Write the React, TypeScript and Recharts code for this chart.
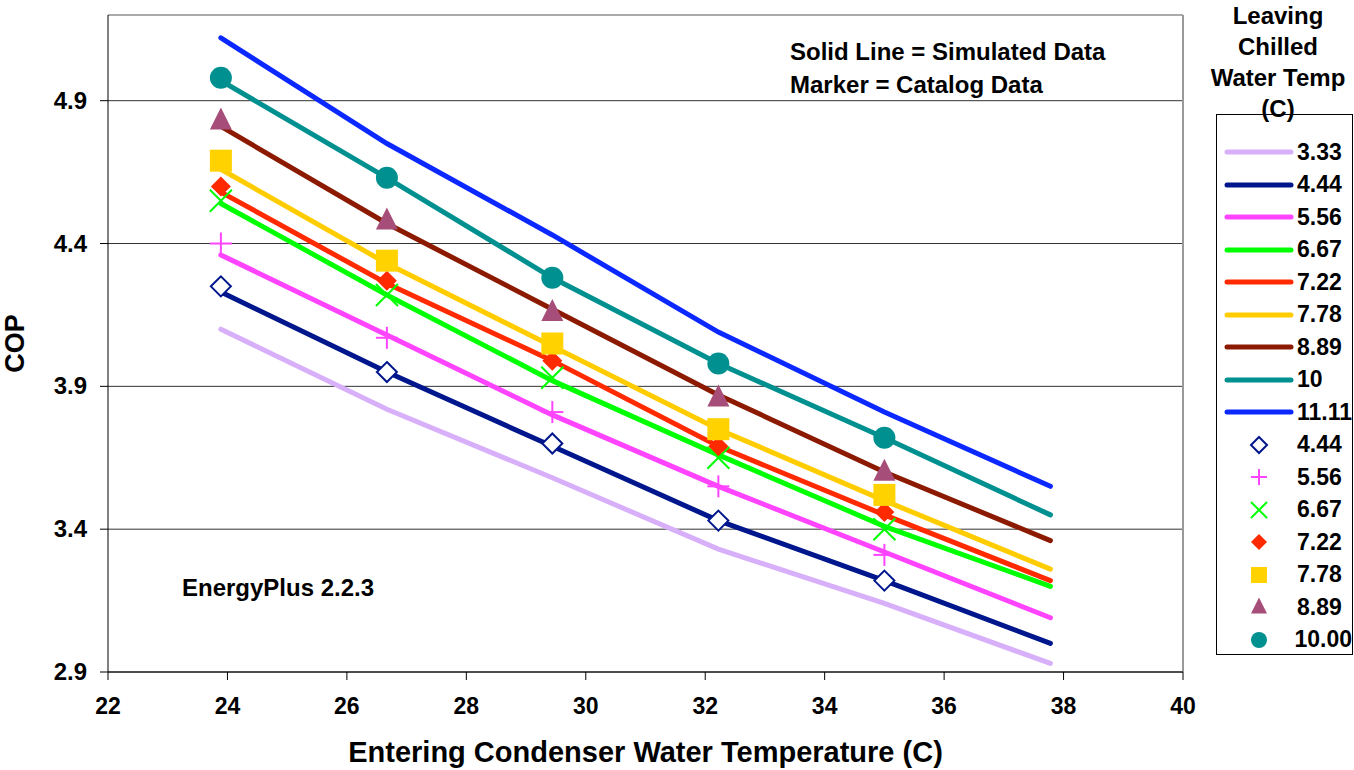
import {
  CartesianGrid,
  ComposedChart,
  Line,
  ReferenceLine,
  Scatter,
  XAxis,
  YAxis
} from "recharts";

const font = "'Liberation Sans', Arial, sans-serif";

const condTemps = [23.89, 26.67, 29.44, 32.22, 35.0, 37.78];
const catalogTemps = [23.89, 26.67, 29.44, 32.22, 35.0];
const xTicks = [22, 24, 26, 28, 30, 32, 34, 36, 38, 40];
const yTicks = [2.9, 3.4, 3.9, 4.4, 4.9];

// simulated COP (solid lines), one per leaving chilled water temp
const sim333 = [4.1, 3.82, 3.58, 3.33, 3.14, 2.93];
const sim444 = [4.23, 3.95, 3.69, 3.43, 3.22, 3.0];
const sim556 = [4.36, 4.08, 3.8, 3.55, 3.32, 3.09];
const sim667 = [4.54, 4.22, 3.92, 3.66, 3.41, 3.2];
const sim722 = [4.58, 4.26, 3.99, 3.69, 3.45, 3.22];
const sim778 = [4.66, 4.33, 4.04, 3.75, 3.5, 3.26];
const sim889 = [4.81, 4.47, 4.17, 3.87, 3.6, 3.36];
const sim1000 = [4.97, 4.63, 4.28, 3.98, 3.72, 3.45];
const sim1111 = [5.12, 4.75, 4.43, 4.09, 3.81, 3.55];

const simLabels = ["3.33", "4.44", "5.56", "6.67", "7.22", "7.78", "8.89", "10", "11.11"];
const simColors = ["#d8b0fa", "#00168c", "#ff44ff", "#00ff00", "#ff2a00", "#ffcc00", "#8b1a00", "#009090", "#0a28ff"];
const simValues = [sim333, sim444, sim556, sim667, sim722, sim778, sim889, sim1000, sim1111];

// catalog COP (markers)
const cat444 = [4.25, 3.95, 3.7, 3.43, 3.22];
const cat556 = [4.4, 4.07, 3.81, 3.55, 3.31];
const cat667 = [4.55, 4.22, 3.93, 3.65, 3.4];
const cat722 = [4.6, 4.27, 3.99, 3.69, 3.46];
const cat778 = [4.69, 4.34, 4.05, 3.75, 3.52];
const cat889 = [4.83, 4.48, 4.16, 3.86, 3.6];
const cat1000 = [4.98, 4.63, 4.28, 3.98, 3.72];

const catLabels = ["4.44", "5.56", "6.67", "7.22", "7.78", "8.89", "10.00"];
const catKinds = ["openDiamond", "plus", "x", "diamond", "square", "triangle", "circle"];
const catColors = ["#00168c", "#ff44ff", "#00ff00", "#ff2a00", "#ffd200", "#a64d79", "#009090"];
const catValues = [cat444, cat556, cat667, cat722, cat778, cat889, cat1000];

const simSeries = simValues.map((vals, i) => ({
  name: simLabels[i],
  color: simColors[i],
  data: vals.map((y, j) => ({ x: condTemps[j], y }))
}));

const catSeries = catValues.map((vals, i) => ({
  name: catLabels[i],
  kind: catKinds[i],
  color: catColors[i],
  data: vals.map((y, j) => ({ x: catalogTemps[j], y }))
}));

function marker(kind: string, cx: number, cy: number, r: number, color: string) {
  switch (kind) {
    case "openDiamond":
      return (
        <polygon
          points={`${cx},${cy - r} ${cx + r},${cy} ${cx},${cy + r} ${cx - r},${cy}`}
          fill="#fff"
          stroke={color}
          strokeWidth={2}
        />
      );
    case "diamond":
      return <polygon points={`${cx},${cy - r} ${cx + r},${cy} ${cx},${cy + r} ${cx - r},${cy}`} fill={color} />;
    case "plus":
      return (
        <g stroke={color} strokeWidth={2}>
          <line x1={cx - r} y1={cy} x2={cx + r} y2={cy} />
          <line x1={cx} y1={cy - r} x2={cx} y2={cy + r} />
        </g>
      );
    case "x":
      return (
        <g stroke={color} strokeWidth={2}>
          <line x1={cx - r} y1={cy - r} x2={cx + r} y2={cy + r} />
          <line x1={cx - r} y1={cy + r} x2={cx + r} y2={cy - r} />
        </g>
      );
    case "square":
      return <rect x={cx - r} y={cy - r} width={2 * r} height={2 * r} fill={color} />;
    case "triangle":
      return (
        <polygon
          points={`${cx},${cy - r * 1.2} ${cx + r},${cy + r * 0.8} ${cx - r},${cy + r * 0.8}`}
          fill={color}
        />
      );
    default:
      return <circle cx={cx} cy={cy} r={r} fill={color} />;
  }
}

function renderXTick(p: any) {
  return (
    <text x={p.x} y={p.y + 32} textAnchor="middle" fontSize={23} fontWeight={700} fontFamily={font} fill="#000">
      {p.payload.value}
    </text>
  );
}

function renderYTick(p: any) {
  return (
    <text x={p.x - 11} y={p.y + 8} textAnchor="end" fontSize={24} fontWeight={700} fontFamily={font} fill="#000">
      {Number(p.payload.value).toFixed(1)}
    </text>
  );
}

export default function App() {
  return (
    <div style={{ position: "relative", width: 1354, height: 770, fontFamily: font, background: "#fff" }}>
      <style>{`body{margin:0}`}</style>
      <ComposedChart width={1354} height={770} margin={{ top: 15, right: 171, bottom: 0, left: 0 }}>
        <CartesianGrid vertical={false} stroke="#333" />
        <XAxis
          type="number"
          dataKey="x"
          domain={[22, 40]}
          ticks={xTicks}
          height={98}
          stroke="#000"
          tickSize={8}
          tick={renderXTick}
          label={{
            value: "Entering Condenser Water Temperature (C)",
            position: "insideBottom",
            offset: 8,
            style: { fill: "#000", fontSize: 29, fontWeight: "bold", fontFamily: font }
          }}
        />
        <YAxis
          type="number"
          dataKey="y"
          domain={[2.9, 5.2]}
          ticks={yTicks}
          width={108}
          stroke="#000"
          tickSize={8}
          tick={renderYTick}
          label={{
            value: "COP",
            angle: -90,
            position: "insideLeft",
            offset: 14,
            style: { fill: "#000", fontSize: 27, fontWeight: "bold", fontFamily: font, textAnchor: "middle" }
          }}
        />
        <ReferenceLine y={5.2} stroke="#aaa" strokeWidth={2} />
        <ReferenceLine x={40} stroke="#999" strokeWidth={2} />
        {simSeries.map((s) => (
          <Line
            key={"sim" + s.name}
            data={s.data}
            dataKey="y"
            type="linear"
            stroke={s.color}
            strokeWidth={5}
            strokeLinecap="round"
            dot={false}
            activeDot={false}
            isAnimationActive={false}
          />
        ))}
        {catSeries.map((s) => (
          <Scatter
            key={"cat" + s.name}
            data={s.data}
            dataKey="y"
            isAnimationActive={false}
            shape={(p: any) => marker(s.kind, p.cx, p.cy, s.kind === "openDiamond" || s.kind === "diamond" ? 10 : 11, s.color)}
          />
        ))}
      </ComposedChart>

      <div style={{ position: "absolute", left: 790, top: 35, fontSize: 24, fontWeight: "bold", lineHeight: "33px" }}>
        <div>Solid Line = Simulated Data</div>
        <div>Marker = Catalog Data</div>
      </div>
      <div style={{ position: "absolute", left: 182, top: 574, fontSize: 24, fontWeight: "bold" }}>EnergyPlus 2.2.3</div>

      <div
        style={{
          position: "absolute",
          left: 1198,
          top: 0,
          width: 160,
          textAlign: "center",
          fontSize: 24,
          fontWeight: "bold",
          lineHeight: "31px"
        }}
      >
        Leaving
        <br />
        Chilled
        <br />
        Water Temp
        <br />
        (C)
      </div>
      <div
        style={{
          position: "absolute",
          left: 1216,
          top: 114,
          width: 137,
          height: 541,
          border: "1px solid #000",
          boxSizing: "border-box",
          paddingTop: 21
        }}
      >
        {simSeries.map((s) => (
          <div key={"l" + s.name} style={{ display: "flex", alignItems: "center", height: 32.5 }}>
            <svg width={76} height={12} style={{ marginLeft: 4 }}>
              <line x1={6} y1={6} x2={70} y2={6} stroke={s.color} strokeWidth={5} strokeLinecap="round" />
            </svg>
            <span style={{ fontSize: 23, fontWeight: "bold" }}>{s.name}</span>
          </div>
        ))}
        {catSeries.map((s) => (
          <div key={"m" + s.name} style={{ display: "flex", alignItems: "center", height: 32.5 }}>
            <svg width={76} height={24} style={{ marginLeft: 4 }}>
              {marker(s.kind, 38, 12, 8, s.color)}
            </svg>
            <span style={{ fontSize: 23, fontWeight: "bold" }}>{s.name}</span>
          </div>
        ))}
      </div>
    </div>
  );
}
